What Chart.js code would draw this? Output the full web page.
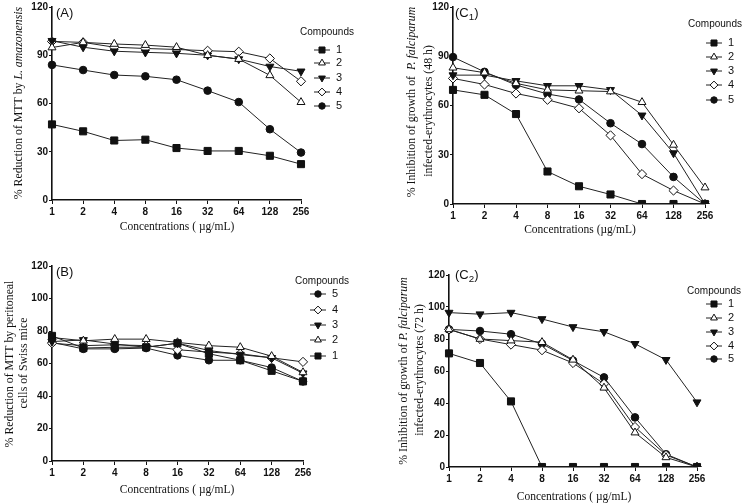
<!DOCTYPE html>
<html>
<head>
<meta charset="utf-8">
<script src="https://cdn.jsdelivr.net/npm/chart.js@4.4.1/dist/chart.umd.min.js"></script>
<style>
  body { margin: 0; background: #fff; width: 743px; height: 504px; position: relative; overflow: hidden; }
  canvas { position: absolute; }
</style>
</head>
<body>
<canvas id="chartA" width="372" height="250" style="left:0;top:0"></canvas>
<canvas id="chartC1" width="371" height="250" style="left:372px;top:0"></canvas>
<canvas id="chartB" width="372" height="254" style="left:0;top:250px"></canvas>
<canvas id="chartC2" width="371" height="254" style="left:372px;top:250px"></canvas>
<script>
// concentrations (ug/mL), same for all panels
const concentrations = ['1', '2', '4', '8', '16', '32', '64', '128', '256'];
const compoundNames = ['1', '2', '3', '4', '5'];

// (A) % reduction of MTT by L. amazonensis
const aComp1 = [47, 42.7, 37, 37.5, 32.3, 30.5, 30.5, 27.5, 22.3];
const aComp2 = [94.8, 98, 97, 96.3, 95, 90, 87.6, 77.5, 60.8];
const aComp3 = [99, 95, 92.5, 91.8, 91.2, 90, 87.6, 83, 80];
const aComp4 = [98.6, 98, 95, 94.2, 93.6, 92.8, 92.2, 88, 73.8];
const aComp5 = [84, 80.8, 77.7, 76.9, 74.8, 68, 60.9, 44, 29.5];

// (C1) % inhibition of P. falciparum, 48 h
const c1Comp1 = [69.5, 66.5, 54.8, 19.8, 10.8, 5.8, 0, 0, 0];
const c1Comp2 = [83, 80, 73.5, 69.5, 69, 68.5, 62, 36, 10];
const c1Comp3 = [78.5, 78.5, 75, 72, 72, 69.5, 54, 31, 0];
const c1Comp4 = [76.5, 72.8, 67.3, 63.5, 58.3, 41.8, 18.2, 8.2, 0];
const c1Comp5 = [89.5, 80.5, 72.5, 67, 63.7, 49.2, 36.5, 16.5, 0];

// (B) % reduction of MTT by peritoneal cells of Swiss mice
const bComp1 = [77, 69.5, 70, 70, 72.5, 66, 62, 55.5, 49];
const bComp2 = [76, 74, 75, 75, 73, 71, 70, 64.5, 54.5];
const bComp3 = [73.5, 74.5, 72, 70, 72.5, 68, 65.5, 63.5, 54];
const bComp4 = [72.5, 71, 71.5, 71, 68.5, 67, 66, 63.5, 61];
const bComp5 = [73, 69, 69, 69.5, 65, 62, 62, 57.5, 49];

// (C2) % inhibition of P. falciparum, 72 h
const c2Comp1 = [71, 65, 41, 0, 0, 0, 0, 0, 0];
const c2Comp2 = [86, 80, 79, 78, 67, 49.5, 21.5, 6, 0];
const c2Comp3 = [96.5, 95.5, 96.5, 92.5, 87.5, 84.5, 77, 67, 40.5];
const c2Comp4 = [86, 80, 76.5, 73, 65, 52, 25, 7.5, 0];
const c2Comp5 = [86, 85, 83, 77, 66.5, 56, 31, 8, 0];

const INK = '#111';
const SANS = '"Liberation Sans", Arial, sans-serif';
const SERIF = '"Liberation Serif", "Times New Roman", serif';

// marker look per compound 1..5
const markers = [
  { style: 'rect', fill: INK, r: 5, rot: 0 },
  { style: 'triangle', fill: '#fff', r: 4.6, rot: 0 },
  { style: 'triangle', fill: INK, r: 4.6, rot: 180 },
  { style: 'rectRot', fill: '#fff', r: 4.6, rot: 0 },
  { style: 'circle', fill: INK, r: 3.8, rot: 0 }
];

function makeSets(series) {
  return series.map((vals, i) => ({
    label: compoundNames[i],
    data: vals,
    borderColor: '#222',
    borderWidth: 1,
    pointStyle: markers[i].style,
    pointRadius: markers[i].r,
    pointRotation: markers[i].rot,
    pointBackgroundColor: markers[i].fill,
    pointBorderColor: INK,
    pointBorderWidth: 1,
    tension: 0
  }));
}

function drawRich(ctx, segs, x, y, align, size) {
  const fontOf = s => (s.i ? 'italic ' : '') + (s.sub ? size * 0.75 : size) + 'px ' + (s.font || SERIF);
  let total = 0;
  segs.forEach(s => { ctx.font = fontOf(s); total += ctx.measureText(s.t).width; });
  let cx = align === 'center' ? x - total / 2 : x;
  ctx.textAlign = 'left';
  ctx.textBaseline = 'middle';
  segs.forEach(s => {
    ctx.font = fontOf(s);
    ctx.fillText(s.t, cx, s.sub ? y + size * 0.3 : y);
    cx += ctx.measureText(s.t).width;
  });
}

const panelDeco = {
  id: 'panelDeco',
  afterDraw(chart, args, o) {
    const ctx = chart.ctx;
    ctx.save();
    ctx.fillStyle = INK;
    // panel tag
    drawRich(ctx, o.tag, o.tagPos[0], o.tagPos[1], 'left', 13);
    // x title
    drawRich(ctx, o.xTitle, o.xPos[0], o.xPos[1], 'center', 11.5);
    // y title lines
    o.yLines.forEach(line => {
      ctx.save();
      ctx.translate(line.x, line.y);
      ctx.rotate(-Math.PI / 2);
      drawRich(ctx, line.segs, 0, 0, 'center', 11.8);
      ctx.restore();
    });
    // legend
    ctx.font = '10px ' + SANS;
    ctx.textAlign = 'center';
    ctx.textBaseline = 'middle';
    ctx.fillText('Compounds', o.legend.titleX, o.legend.titleY);
    o.legend.order.forEach((idx, k) => {
      const ds = chart.data.datasets[idx];
      const y = o.legend.ys[k];
      const mx = o.legend.markX;
      ctx.strokeStyle = '#222';
      ctx.lineWidth = 1;
      ctx.beginPath();
      ctx.moveTo(mx - 8, y);
      ctx.lineTo(mx + 8, y);
      ctx.stroke();
      ctx.fillStyle = ds.pointBackgroundColor;
      ctx.strokeStyle = INK;
      Chart.helpers.drawPoint(ctx, {
        pointStyle: ds.pointStyle, radius: ds.pointRadius * 0.85,
        rotation: ds.pointRotation, borderWidth: 1
      }, mx, y);
      ctx.fillStyle = INK;
      ctx.font = '11px ' + SANS;
      ctx.textAlign = 'left';
      ctx.fillText(ds.label, o.legend.numX, y);
    });
    ctx.restore();
  }
};

function buildChart(id, area, series, yStep, deco) {
  const canvas = document.getElementById(id);
  const W = canvas.width, H = canvas.height;
  return new Chart(canvas, {
    type: 'line',
    data: { labels: concentrations, datasets: makeSets(series) },
    plugins: [panelDeco],
    options: {
      responsive: false,
      animation: false,
      devicePixelRatio: 1,
      layout: { autoPadding: false, padding: { left: 0, top: area.top, right: W - area.right, bottom: 0 } },
      plugins: { legend: { display: false }, tooltip: { enabled: false }, panelDeco: deco },
      scales: {
        x: {
          offset: false,
          afterFit: s => { s.height = H - area.bottom; },
          grid: { drawOnChartArea: false, drawTicks: true, tickLength: 4, color: INK, lineWidth: 1 },
          border: { color: INK, width: 1.6 },
          ticks: { color: INK, font: { family: SANS, size: 10, weight: 'bold' }, padding: 2, maxRotation: 0, autoSkip: false }
        },
        y: {
          min: 0, max: 120,
          afterFit: s => { s.width = area.left; },
          grid: { drawOnChartArea: false, drawTicks: true, tickLength: 3, color: INK, lineWidth: 1 },
          border: { color: INK, width: 1.6 },
          ticks: { stepSize: yStep, color: INK, font: { family: SANS, size: 10, weight: 'bold' }, padding: 1 }
        }
      }
    }
  });
}

const umTitle = [{ t: 'Concentrations ( \u00b5g/mL)' }];

buildChart('chartA', { left: 52, top: 6, right: 301, bottom: 200 },
  [aComp1, aComp2, aComp3, aComp4, aComp5], 30, {
    tag: [{ t: '(A)', font: SANS }], tagPos: [56, 13],
    xTitle: umTitle, xPos: [177, 227],
    yLines: [{ x: 19, y: 103, segs: [{ t: '% Reduction of MTT by ' }, { t: 'L. amazonensis', i: true }] }],
    legend: { titleX: 327, titleY: 32, markX: 322, numX: 336, order: [0, 1, 2, 3, 4], ys: [50, 63, 78, 92, 106] }
  });

buildChart('chartC1', { left: 81, top: 7, right: 333, bottom: 204 },
  [c1Comp1, c1Comp2, c1Comp3, c1Comp4, c1Comp5], 30, {
    tag: [{ t: '(C', font: SANS }, { t: '1', font: SANS, sub: true }, { t: ')', font: SANS }], tagPos: [83, 13],
    xTitle: [{ t: 'Concentrations (\u00b5g/mL)' }], xPos: [208, 230],
    yLines: [
      { x: 40, y: 102, segs: [{ t: '% Inhibition of growth of  ' }, { t: 'P. falciparum', i: true }] },
      { x: 57, y: 111, segs: [{ t: 'infected-erythrocytes (48 h)' }] }
    ],
    legend: { titleX: 343, titleY: 24, markX: 342, numX: 356, order: [0, 1, 2, 3, 4], ys: [43, 57, 71, 85, 100] }
  });

buildChart('chartB', { left: 52, top: 16, right: 303, bottom: 211 },
  [bComp1, bComp2, bComp3, bComp4, bComp5], 20, {
    tag: [{ t: '(B)', font: SANS }], tagPos: [56, 22],
    xTitle: umTitle, xPos: [177, 240],
    yLines: [
      { x: 10, y: 114, segs: [{ t: '% Reduction of MTT by peritoneal' }] },
      { x: 24, y: 113, segs: [{ t: 'cells of Swiss mice' }] }
    ],
    legend: { titleX: 322, titleY: 31, markX: 318, numX: 332, order: [4, 3, 2, 1, 0], ys: [44, 60, 75, 90, 106] }
  });

buildChart('chartC2', { left: 77, top: 25, right: 325, bottom: 217 },
  [c2Comp1, c2Comp2, c2Comp3, c2Comp4, c2Comp5], 20, {
    tag: [{ t: '(C', font: SANS }, { t: '2', font: SANS, sub: true }, { t: ')', font: SANS }], tagPos: [83, 25],
    xTitle: umTitle, xPos: [202, 247],
    yLines: [
      { x: 32, y: 121, segs: [{ t: '% Inhibition of growth of ' }, { t: 'P. falciparum', i: true }] },
      { x: 48, y: 120, segs: [{ t: 'infected-erythrocytes (72 h)' }] }
    ],
    legend: { titleX: 342, titleY: 41, markX: 342, numX: 356, order: [0, 1, 2, 3, 4], ys: [54, 68, 82, 96, 109] }
  });
</script>
</body>
</html>
